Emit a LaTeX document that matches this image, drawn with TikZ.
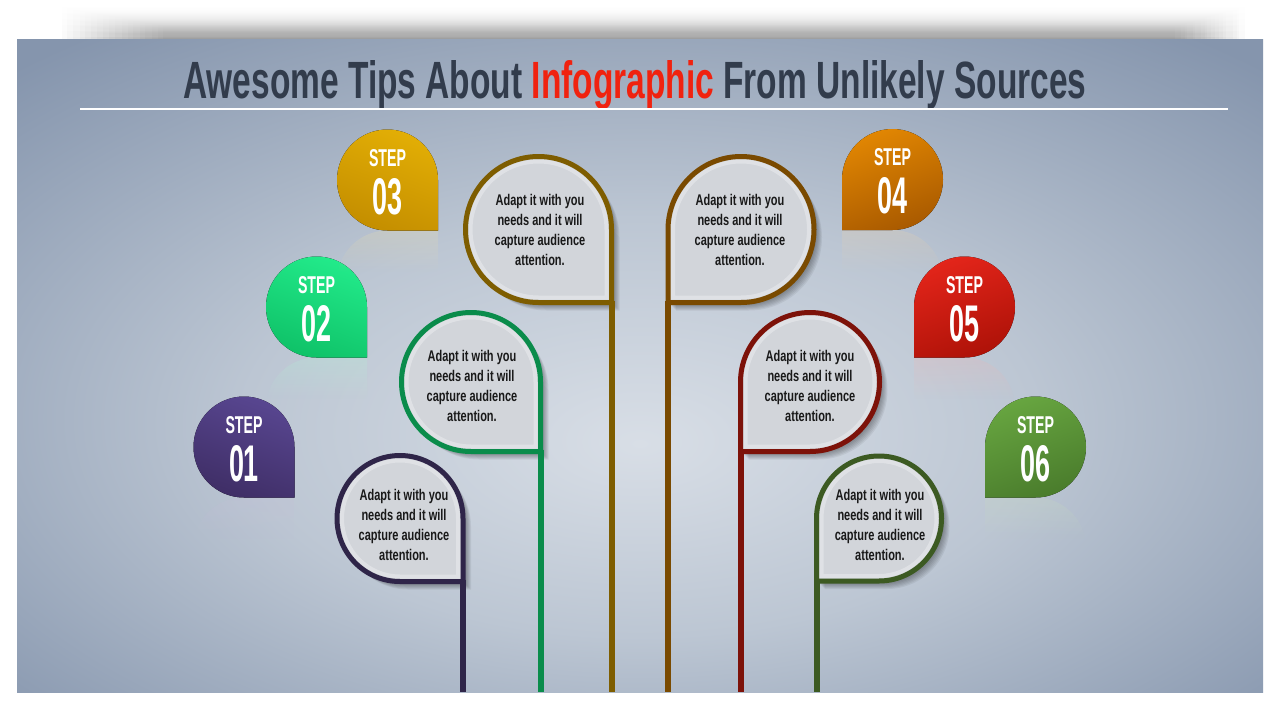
\documentclass[tikz,border=0pt]{standalone}
\usepackage{fontspec}
\setmainfont{Liberation Sans}
\usepackage{graphicx}
\usetikzlibrary{fadings}
\definecolor{bgin}{HTML}{D8DEE6}
\definecolor{bgmid}{HTML}{BCC6D3}
\definecolor{bgout}{HTML}{8595AD}
\definecolor{titlecol}{HTML}{323C4C}
\definecolor{titlered}{HTML}{F0220F}
\definecolor{bubfill}{HTML}{D2D5DA}
\definecolor{bOneA}{HTML}{584690}\definecolor{bOneB}{HTML}{3F2E66}\definecolor{rOne}{HTML}{2F2549}
\definecolor{bTwoA}{HTML}{22EA8A}\definecolor{bTwoB}{HTML}{0FC268}\definecolor{rTwo}{HTML}{0A8C4B}
\definecolor{bThreeA}{HTML}{E2AE05}\definecolor{bThreeB}{HTML}{C48E00}\definecolor{rThree}{HTML}{7E5D00}
\definecolor{bFourA}{HTML}{E18602}\definecolor{bFourB}{HTML}{A95A00}\definecolor{rFour}{HTML}{7A4A00}
\definecolor{bFiveA}{HTML}{E3251A}\definecolor{bFiveB}{HTML}{AE1208}\definecolor{rFive}{HTML}{7D1209}
\definecolor{bSixA}{HTML}{67A540}\definecolor{bSixB}{HTML}{4A7C2C}\definecolor{rSix}{HTML}{3C5A22}
\pgfdeclareradialshading{bgshade}{\pgfpoint{0bp}{-6bp}}{color(0bp)=(bgin); color(16bp)=(bgmid); color(36bp)=(bgout); color(75bp)=(bgout)}
\tikzset{
  txt/.style={inner sep=0pt, anchor=base, text=white, font=\bfseries},
  bubtext/.style={inner sep=0pt, font=\fontsize{15.5}{20}\selectfont\bfseries, align=center, xscale=0.71, text=black!90},
  ring/.style={line width=5pt, line join=miter},
  stem/.style={line width=6pt},
}
% left badge: cx cy colA colB id number
\newcommand{\BadgeL}[6]{%
  \begin{scope}
    \clip (#1+50.5,#2+101) -- (#1+50.5,#2+50.5) -- (#1,#2+50.5) arc[start angle=-90,end angle=-360,radius=50.5] -- cycle;
    \fill[#3!35!white,opacity=.22,path fading=south] (#1-51,#2+50.5) rectangle (#1+51,#2+92);
  \end{scope}
  \fill[top color=#3,bottom color=#4,shading angle=-20] (#1+50.5,#2) -- (#1+50.5,#2+50.5) -- (#1,#2+50.5) arc[start angle=90,end angle=360,radius=50.5] -- cycle;
  \BadgeText{#1}{#2}{#5}{#6}}
% right badge
\newcommand{\BadgeR}[6]{%
  \begin{scope}
    \clip (#1-50.5,#2+101) -- (#1-50.5,#2+50.5) -- (#1,#2+50.5) arc[start angle=-90,end angle=180,radius=50.5] -- cycle;
    \fill[#3!35!white,opacity=.22,path fading=south] (#1-51,#2+50.5) rectangle (#1+51,#2+92);
  \end{scope}
  \fill[top color=#3,bottom color=#4,shading angle=20] (#1-50.5,#2) -- (#1-50.5,#2+50.5) -- (#1,#2+50.5) arc[start angle=90,end angle=-180,radius=50.5] -- cycle;
  \BadgeText{#1}{#2}{#5}{#6}}
\newcommand{\BadgeText}[4]{%
  \node[txt] (st#3) at (#1,#2-14) {\resizebox{37pt}{17pt}{STEP}};
  \node[txt] (nm#3) at (#1,#2+34) {\resizebox{30pt}{36pt}{#4}};}
% left bubble: cx cy r ringcolor id
\newcommand{\BubL}[5]{%
  \foreach \k in {2,...,8}{\fill[black,opacity=.06] (#1+#3+\k,#2+\k) -- (#1+#3+\k,#2+#3+\k) -- (#1+\k,#2+#3+\k) arc[start angle=90,end angle=360,radius=#3] -- cycle;}
  \fill[bubfill] (#1+#3,#2) -- (#1+#3,#2+#3) -- (#1,#2+#3) arc[start angle=90,end angle=360,radius=#3] -- cycle;
  \draw[white,opacity=.3,line width=4pt] (#1+#3-5,#2) -- (#1+#3-5,#2+#3-5) -- (#1,#2+#3-5) arc[start angle=90,end angle=360,radius=#3-5] -- cycle;
  \draw[#4,ring] (#1+#3,#2) -- (#1+#3,#2+#3) -- (#1,#2+#3) arc[start angle=90,end angle=360,radius=#3] -- cycle;
  \coordinate (c#5) at (#1+#3,#2+#3-2);
  \coordinate (e#5) at (#1+#3,692);
  \draw[#4,stem] (c#5) -- (e#5);}
% right bubble
\newcommand{\BubR}[5]{%
  \foreach \k in {2,...,8}{\fill[black,opacity=.06] (#1-#3+\k,#2+\k) -- (#1-#3+\k,#2+#3+\k) -- (#1+\k,#2+#3+\k) arc[start angle=90,end angle=-180,radius=#3] -- cycle;}
  \fill[bubfill] (#1-#3,#2) -- (#1-#3,#2+#3) -- (#1,#2+#3) arc[start angle=90,end angle=-180,radius=#3] -- cycle;
  \draw[white,opacity=.3,line width=4pt] (#1-#3+5,#2) -- (#1-#3+5,#2+#3-5) -- (#1,#2+#3-5) arc[start angle=90,end angle=-180,radius=#3-5] -- cycle;
  \draw[#4,ring] (#1-#3,#2) -- (#1-#3,#2+#3) -- (#1,#2+#3) arc[start angle=90,end angle=-180,radius=#3] -- cycle;
  \coordinate (c#5) at (#1-#3,#2+#3-2);
  \coordinate (e#5) at (#1-#3,692);
  \draw[#4,stem] (c#5) -- (e#5);}
\begin{document}
\begin{tikzpicture}[x=1pt,y=-1pt]
\useasboundingbox (0,0) rectangle (1280,720);
\fill[white] (0,0) rectangle (1280,720);
% top shadow (soft, fading upwards and at both ends)
\foreach \i in {0,...,17}{\fill[black,opacity=.022,path fading=north] (62+6*\i,4+1.2*\i) rectangle (1246-4*\i,39);}
% slide
\shade[shading=bgshade] (17,39) rectangle (1263,692);
% title
\node[inner sep=0pt,anchor=base west,text=titlecol] (title) at (183,98) {\resizebox{903pt}{38pt}{\bfseries Awesome Tips About \textcolor{titlered}{Infographic} From Unlikely Sources}};
\coordinate (ruleL) at (80,109);
\coordinate (ruleR) at (1228,109);
\draw[white,line width=1.3pt] (ruleL) -- (ruleR);
% badges
\BadgeL{244}{447}{bOneA}{bOneB}{1}{01}
\BadgeL{316.5}{307}{bTwoA}{bTwoB}{2}{02}
\BadgeL{387.5}{180}{bThreeA}{bThreeB}{3}{03}
\BadgeR{892.5}{179.5}{bFourA}{bFourB}{4}{04}
\BadgeR{964.5}{307}{bFiveA}{bFiveB}{5}{05}
\BadgeR{1035.5}{447}{bSixA}{bSixB}{6}{06}
% bubbles
\BubL{538.5}{229.5}{73}{rThree}{3}
\BubL{471}{382}{69.5}{rTwo}{2}
\BubL{400}{518.5}{63}{rOne}{1}
\BubR{741}{229.5}{73}{rFour}{4}
\BubR{810}{382}{69.5}{rFive}{5}
\BubR{879}{518.5}{62.5}{rSix}{6}
% bubble texts
\node[bubtext] (t1) at (404,525) {Adapt it with you\\needs and it will\\capture audience\\attention.};
\node[bubtext] (t2) at (472,386) {Adapt it with you\\needs and it will\\capture audience\\attention.};
\node[bubtext] (t3) at (540,230) {Adapt it with you\\needs and it will\\capture audience\\attention.};
\node[bubtext] (t4) at (740,230) {Adapt it with you\\needs and it will\\capture audience\\attention.};
\node[bubtext] (t5) at (810,386) {Adapt it with you\\needs and it will\\capture audience\\attention.};
\node[bubtext] (t6) at (880,525) {Adapt it with you\\needs and it will\\capture audience\\attention.};
\end{tikzpicture}
\end{document}
